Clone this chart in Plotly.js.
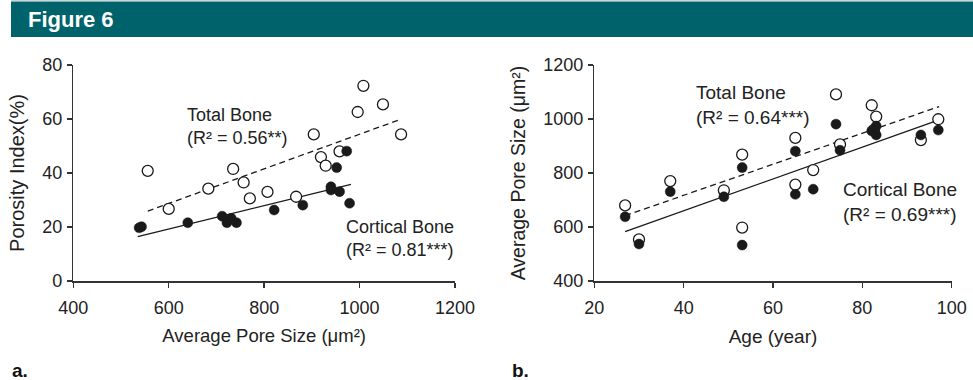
<!DOCTYPE html>
<html>
<head>
<meta charset="utf-8">
<script src="https://cdn.plot.ly/plotly-3.0.1.min.js"></script>
<style>html,body{margin:0;padding:0;background:#fff;}#chart{width:973px;height:380px;}</style>
</head>
<body>
<div id="chart"></div>
<script>
// Panel a: Porosity Index vs Average Pore Size
const aTotalX = [556, 600, 683, 735, 757, 770, 807, 867, 904, 919, 929, 958, 996, 1008, 1049, 1087];
const aTotalY = [40.8, 26.7, 34.2, 41.5, 36.5, 30.6, 33.0, 31.2, 54.3, 45.9, 42.7, 48.0, 62.6, 72.3, 65.4, 54.3];
const aCortX = [538, 543, 640, 712, 722, 731, 742, 821, 881, 940, 940, 952, 958, 973, 979];
const aCortY = [19.7, 20.1, 21.6, 24.0, 21.6, 23.2, 21.6, 26.3, 28.1, 34.9, 33.7, 42.0, 33.1, 48.1, 28.8];
const aTotalFitX = [556, 1088];
const aTotalFitY = [25.9, 60.0];
const aCortFitX = [535, 982];
const aCortFitY = [16.4, 35.8];

// Panel b: Average Pore Size vs Age
const bTotalX = [26.9, 30.0, 37.0, 49.0, 53.1, 53.1, 65.0, 65.0, 69.0, 74.1, 75.0, 82.1, 83.1, 82.6, 93.1, 97.0];
const bTotalY = [680, 554, 770, 736, 868, 598, 930, 757, 811, 1091, 906, 1051, 1009, 960, 922, 999];
const bCortX = [26.9, 30.0, 37.0, 49.0, 53.1, 53.1, 65.0, 65.0, 69.0, 74.1, 75.0, 82.1, 83.1, 83.1, 93.1, 97.0];
const bCortY = [638, 537, 731, 712, 820, 533, 881, 721, 740, 981, 884, 956, 974, 941, 941, 959];
const bTotalFitX = [26.9, 97.2];
const bTotalFitY = [642, 1046];
const bCortFitX = [26.9, 97.0];
const bCortFitY = [583, 996];

const aXTicks = [400, 600, 800, 1000, 1200];
const aYTicks = [0, 20, 40, 60, 80];
const bXTicks = [20, 40, 60, 80, 100];
const bYTicks = [400, 600, 800, 1000, 1200];

const W = 973, H = 380;
const px = v => v / W;
const py = v => 1 - v / H;

const ink = '#1a1a1a';
const openMarker = {symbol: 'circle', size: 11, color: '#ffffff', line: {color: ink, width: 1.3}};
const fillMarker = {symbol: 'circle', size: 10, color: ink, line: {color: ink, width: 0.5}};

const traces = [
  {x: aTotalFitX, y: aTotalFitY, xaxis: 'x', yaxis: 'y', mode: 'lines', line: {color: ink, width: 1.3, dash: '6px,4px'}, name: 'Total Bone fit', showlegend: false, hoverinfo: 'skip'},
  {x: aCortFitX, y: aCortFitY, xaxis: 'x', yaxis: 'y', mode: 'lines', line: {color: ink, width: 1.3}, name: 'Cortical Bone fit', showlegend: false, hoverinfo: 'skip'},
  {x: aTotalX, y: aTotalY, xaxis: 'x', yaxis: 'y', mode: 'markers', marker: openMarker, name: 'Total Bone', showlegend: false},
  {x: aCortX, y: aCortY, xaxis: 'x', yaxis: 'y', mode: 'markers', marker: fillMarker, name: 'Cortical Bone', showlegend: false},
  {x: bTotalFitX, y: bTotalFitY, xaxis: 'x2', yaxis: 'y2', mode: 'lines', line: {color: ink, width: 1.3, dash: '6px,4px'}, name: 'Total Bone fit', showlegend: false, hoverinfo: 'skip'},
  {x: bCortFitX, y: bCortFitY, xaxis: 'x2', yaxis: 'y2', mode: 'lines', line: {color: ink, width: 1.3}, name: 'Cortical Bone fit', showlegend: false, hoverinfo: 'skip'},
  {x: bTotalX, y: bTotalY, xaxis: 'x2', yaxis: 'y2', mode: 'markers', marker: openMarker, name: 'Total Bone', showlegend: false},
  {x: bCortX, y: bCortY, xaxis: 'x2', yaxis: 'y2', mode: 'markers', marker: fillMarker, name: 'Cortical Bone', showlegend: false}
];

const regular = 'Liberation Sans, Arial, Helvetica, sans-serif';
const tickFont = {family: regular, size: 18, color: '#222'};

function axisBase(extra) {
  return Object.assign({
    showgrid: false, zeroline: false, showline: true, linecolor: '#333', linewidth: 1.5,
    ticks: 'outside', ticklen: 5, tickwidth: 1.5, tickcolor: '#333',
    tickfont: tickFont, fixedrange: true, automargin: false
  }, extra);
}

const layout = {
  width: W, height: H,
  margin: {l: 0, r: 0, t: 0, b: 0},
  paper_bgcolor: '#ffffff', plot_bgcolor: '#ffffff',
  showlegend: false,
  xaxis: axisBase({domain: [px(73.3), px(455)], range: [400, 1200], tickvals: aXTicks, anchor: 'y', ticklabelstandoff: 5,
    title: {text: 'Average Pore Size (μm²)', font: {family: regular, size: 18.5, color: '#222'}, standoff: 12}}),
  yaxis: axisBase({domain: [py(281), py(65)], range: [0, 80], tickvals: aYTicks, anchor: 'x', ticklabelstandoff: 1,
    title: {text: 'Porosity Index(%)', font: {family: regular, size: 20, color: '#222'}, standoff: 12}}),
  xaxis2: axisBase({domain: [px(594.3), px(951.7)], range: [20, 100], tickvals: bXTicks, anchor: 'y2', ticklabelstandoff: 5,
    title: {text: 'Age (year)', font: {family: regular, size: 19, color: '#222'}, standoff: 12}}),
  yaxis2: axisBase({domain: [py(281), py(65)], range: [400, 1200], tickvals: bYTicks, anchor: 'x2', ticklabelstandoff: 1,
    title: {text: 'Average Pore Size (μm²)', font: {family: regular, size: 19.5, color: '#222'}, standoff: 12}}),
  shapes: [
    {type: 'rect', xref: 'paper', yref: 'paper', x0: px(11), x1: 1, y0: py(37), y1: py(1.5), fillcolor: '#00626a', line: {width: 0}, layer: 'below'},
    {type: 'line', xref: 'paper', yref: 'paper', x0: px(11), x1: 1, y0: py(0.5), y1: py(0.5), line: {color: '#c8d4d6', width: 1}}
  ],
  annotations: [
    {xref: 'paper', yref: 'paper', x: px(26), y: py(19), xanchor: 'left', yanchor: 'middle', showarrow: false,
     text: '<b>Figure 6</b>', font: {family: regular, size: 22, color: '#ffffff'}},
    {xref: 'x', yref: 'y', x: 634, y: (281 - 127) / 2.7, xanchor: 'left', yanchor: 'middle', align: 'left', showarrow: false,
     text: 'Total Bone<br>(R² = 0.56**)', font: {family: regular, size: 18, color: '#222'}},
    {xref: 'x', yref: 'y', x: 400 + (344 - 73.3) / 0.4774, y: (281 - 238.5) / 2.7, xanchor: 'left', yanchor: 'middle', align: 'left', showarrow: false,
     text: 'Cortical Bone<br>(R² = 0.81***)', font: {family: regular, size: 18, color: '#222'}},
    {xref: 'x2', yref: 'y2', x: 20 + (694 - 594.3) / 4.4675, y: 400 + (281 - 105) / 0.27, xanchor: 'left', yanchor: 'middle', align: 'left', showarrow: false,
     text: 'Total Bone<br>(R² = 0.64***)', font: {family: regular, size: 19, color: '#222'}},
    {xref: 'x2', yref: 'y2', x: 20 + (841 - 594.3) / 4.4675, y: 400 + (281 - 202) / 0.27, xanchor: 'left', yanchor: 'middle', align: 'left', showarrow: false,
     text: 'Cortical Bone<br>(R² = 0.69***)', font: {family: regular, size: 19, color: '#222'}},
    {xref: 'paper', yref: 'paper', x: px(10), y: py(370), xanchor: 'left', yanchor: 'middle', showarrow: false,
     text: '<b>a.</b>', font: {family: regular, size: 19, color: '#111'}},
    {xref: 'paper', yref: 'paper', x: px(510), y: py(370), xanchor: 'left', yanchor: 'middle', showarrow: false,
     text: '<b>b.</b>', font: {family: regular, size: 19, color: '#111'}}
  ]
};

Plotly.newPlot('chart', traces, layout, {displayModeBar: false, staticPlot: true});
</script>
</body>
</html>
